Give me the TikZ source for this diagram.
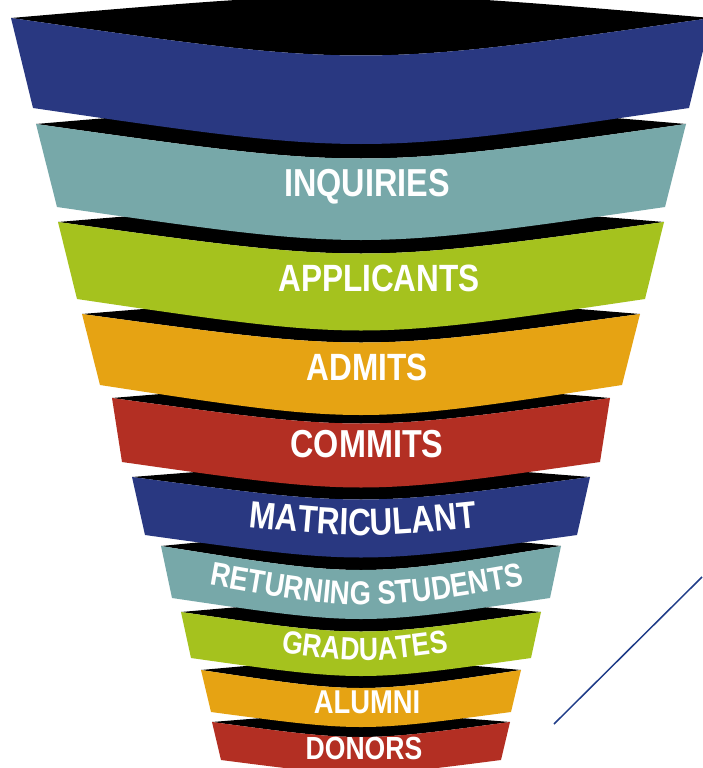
\documentclass[tikz,border=0pt]{standalone}
\usepackage{fontspec}
\newfontfamily\bandfont[FakeStretch=0.83]{Liberation Sans}
\usetikzlibrary{decorations.text}

\definecolor{fnavy}{HTML}{293881}
\definecolor{fteal}{HTML}{77A8A9}
\definecolor{fgreen}{HTML}{A5C21E}
\definecolor{forange}{HTML}{E6A313}
\definecolor{fred}{HTML}{B32F23}
\definecolor{lineblue}{HTML}{1F3C88}

% fonts for the labels set along curved baselines
\newcommand\curvefontA{\bandfont\bfseries\fontsize{38}{38}\selectfont}
\newcommand\curvefontB{\bandfont\bfseries\fontsize{33}{33}\selectfont}
\newcommand\curvefontC{\bandfont\bfseries\fontsize{32}{32}\selectfont}

\begin{document}
\begin{tikzpicture}[x=1pt,y=-1pt,
  bandlabel/.style={text=white, inner sep=0pt, anchor=base,
    font=\bandfont\bfseries\fontsize{#1}{#1}\selectfont},
  curvedlabel/.style={decorate, decoration={text along path, text align=center,
    text color=white, text={#1}}}]

\useasboundingbox (0,0) rectangle (702,768);

% funnel rings, drawn from the narrow end upwards so each ring overlaps the one below
% top y / top half width / rim sag / bottom y / bottom half width / bottom sag / colour
\foreach \ty/\th/\ts/\by/\bh/\bs/\col in {
   722/149/10/760/140/9/fred,
   670/160/12/712/150/10/forange,
   612/180/13/658/170/12/fgreen,
   546/200/16/598/189/14/fteal,
   477/229/15/535/216/15/fnavy,
   398/249/17/462/239/17/fred,
   314/279/19/385/261/20/forange,
   222/303/21/299/284/21/fgreen,
   124/325/23/207/304/22/fteal,
    18/350/25/108/328/24/fnavy}
{
  % dark opening of the ring
  \fill[black] ({361-\th},\ty) .. controls (361,{\ty-1.2*\ts}) .. ({361+\th},\ty)
       .. controls (361,{\ty+2*\ts}) .. ({361-\th},\ty) -- cycle;
  % coloured outer face of the ring
  \fill[\col] ({361-\th},\ty) .. controls (361,{\ty+2*\ts}) .. ({361+\th},\ty)
       -- ({361+\bh},\by) .. controls (361,{\by+2*\bs}) .. ({361-\bh},\by) -- cycle;
}

% labels
\node[bandlabel=39] (inquiries) at (367,196) {INQUIRIES};
\node[bandlabel=38] (applicants) at (379,291) {APPLICANTS};
\node[bandlabel=38] (admits) at (367,380) {ADMITS};
\node[bandlabel=39] (commits) at (367,457) {COMMITS};
\path[curvedlabel={|\curvefontA|MATRICULANT}]
  (228,525) .. controls (363,539) .. (498,525);
\path[curvedlabel={|\curvefontB|RETURNING STUDENTS}]
  (187,581) .. controls (367,613) .. (547,581);
\path[curvedlabel={|\curvefontC|GRADUATES}]
  (265,650) .. controls (365,664) .. (465,650);
\node[bandlabel=33] (alumni) at (367,713) {ALUMNI};
\node[bandlabel=32] (donors) at (364,759) {DONORS};

% thin diagonal rule at the right
\coordinate (rulelow) at (554,724);
\coordinate (rulehigh) at (702,577);
\draw[lineblue, line width=1.5pt] (rulelow) -- (rulehigh);

\end{tikzpicture}
\end{document}
